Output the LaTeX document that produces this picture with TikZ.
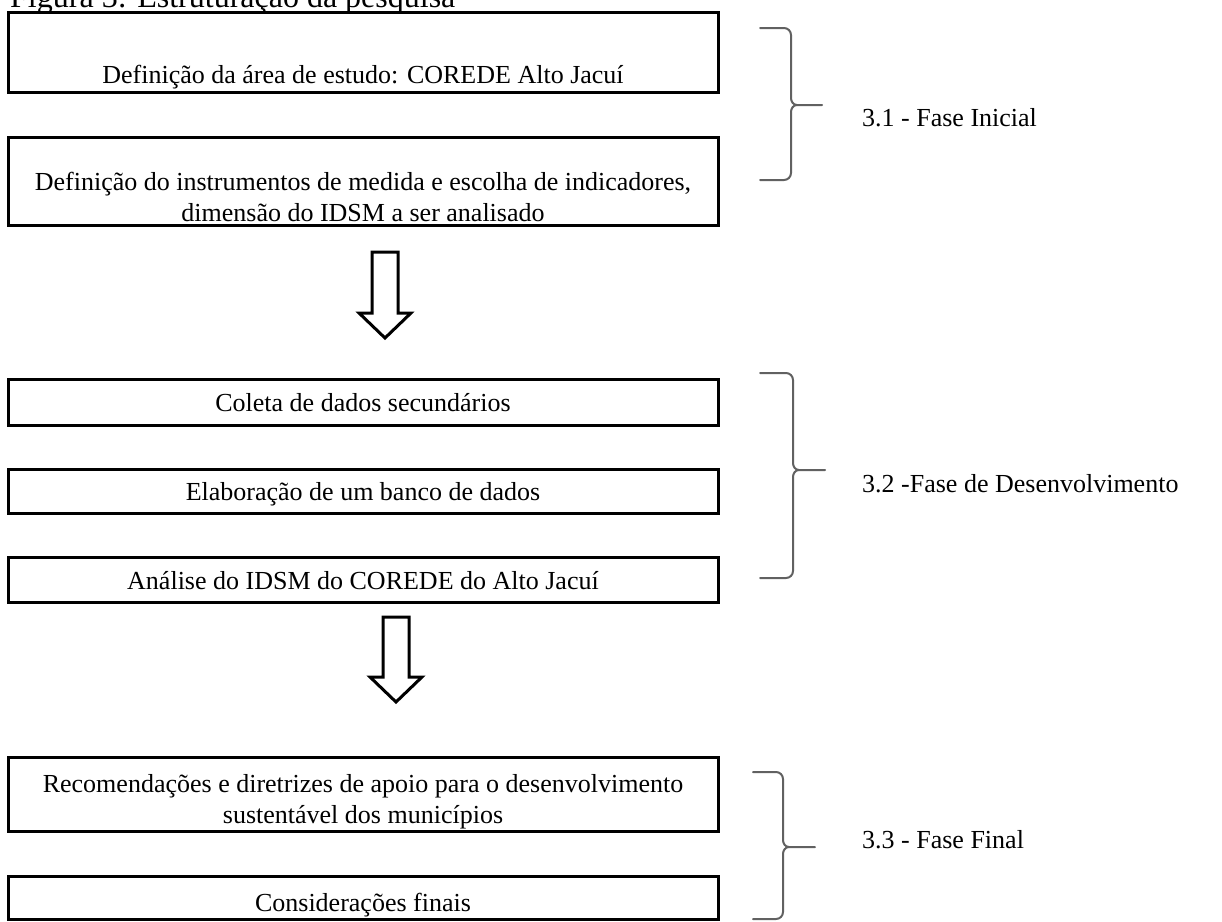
\documentclass[tikz,border=0pt]{standalone}
\usepackage{fontspec}
\setmainfont{Liberation Serif}
\begin{document}
\begin{tikzpicture}[x=1pt,y=-1pt,
  box/.style={draw=black, line width=3pt, minimum width=710pt, inner sep=0pt},
  txt/.style={anchor=base, inner sep=0pt, font=\fontsize{26}{31}\selectfont},
  lbl/.style={anchor=base west, inner sep=0pt, font=\fontsize{26}{31}\selectfont},
  blockarrow/.style={draw=black, fill=white, line width=3pt, line join=miter},
  bracestyle/.style={draw=black!62, line width=2pt, line cap=round}]
\useasboundingbox (0,0) rectangle (1222,921);
\newcommand\phasebrace[6]{% tipx, vx, midtipx, top, mid, bot
  \draw[bracestyle] (#1,#4) -- ({#2-7},#4) to[out=0,in=90] (#2,{#4+7}) -- (#2,{#5-7})
     to[out=-90,in=180] ({#2+6},#5) -- (#3,#5);
  \draw[bracestyle] ({#2+6},#5) to[out=180,in=90] (#2,{#5+7}) -- (#2,{#6-7})
     to[out=-90,in=0] ({#2-7},#6) -- (#1,#6);}

% title
\node[anchor=base west, inner sep=0pt, font=\fontsize{32}{38}\selectfont] (title) at (10,7) {Figura 3: Estruturação da pesquisa};

% boxes
\node[box, minimum height=80pt] (b1) at (363,52) {};
\node[txt] (t1) at (363,83) {Definição da área de estudo: COREDE Alto Jacuí};
\node[box, minimum height=88pt] (b2) at (363,181) {};
\node[txt] (t2a) at (363,190) {Definição do instrumentos de medida e escolha de indicadores,};
\node[txt] (t2b) at (363,221) {dimensão do IDSM a ser analisado};
\node[box, minimum height=46pt] (b3) at (363,402) {};
\node[txt] (t3) at (363,411) {Coleta de dados secundários};
\node[box, minimum height=44pt] (b4) at (363,491) {};
\node[txt] (t4) at (363,500) {Elaboração de um banco de dados};
\node[box, minimum height=45pt] (b5) at (363,579.5) {};
\node[txt] (t5) at (363,589) {Análise do IDSM do COREDE do Alto Jacuí};
\node[box, minimum height=74pt] (b6) at (363,794) {};
\node[txt] (t6a) at (363,792) {Recomendações e diretrizes de apoio para o desenvolvimento};
\node[txt] (t6b) at (363,823) {sustentável dos municípios};
\node[box, minimum height=43pt] (b7) at (363,897.5) {};
\node[txt] (t7) at (363,911) {Considerações finais};

% block arrows
\coordinate (a1) at (385,252);
\draw[blockarrow] (a1) ++(-13,0) -- ++(26,0) -- ++(0,61) -- ++(13,0) -- ++(-26,25) -- ++(-26,-25) -- ++(13,0) -- cycle;
\coordinate (a2) at (396,617);
\draw[blockarrow] (a2) ++(-13,0) -- ++(26,0) -- ++(0,60) -- ++(13,0) -- ++(-26,25) -- ++(-26,-25) -- ++(13,0) -- cycle;

% braces
\phasebrace{760}{791}{822}{28}{105}{180}
\phasebrace{760}{793}{825}{373}{470}{578}
\phasebrace{753}{783}{815}{772}{847}{919}

% phase labels
\node[lbl] (p1) at (862,126) {3.1 - Fase Inicial};
\node[lbl] (p2) at (862,492) {3.2 -Fase de Desenvolvimento};
\node[lbl] (p3) at (862,848) {3.3 - Fase Final};
\end{tikzpicture}
\end{document}
